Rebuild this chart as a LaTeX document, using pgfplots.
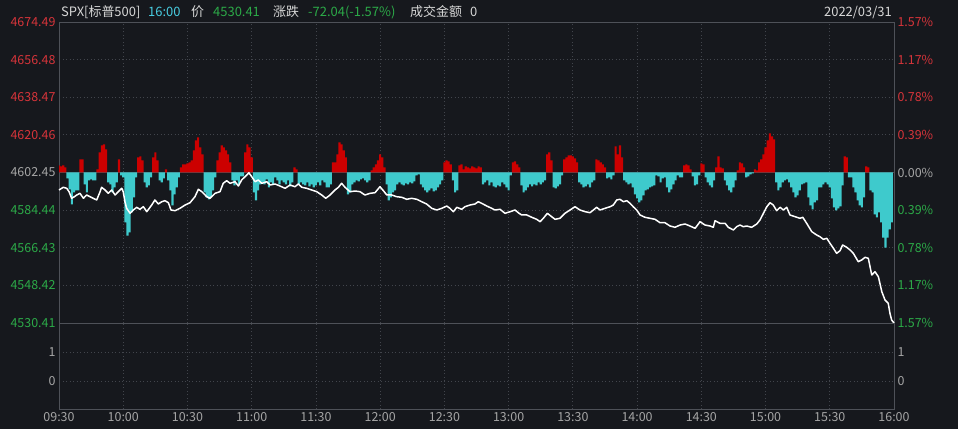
\documentclass[border=0pt]{standalone}
\usepackage{fontspec}
\setmainfont{Noto Sans CJK SC}
\usepackage{pgfplots}
\usepackage{pgfplotstable}
\pgfplotsset{compat=1.18}
\definecolor{bg}{RGB}{22,24,29}
\definecolor{gridc}{RGB}{66,69,76}
\definecolor{framec}{RGB}{78,81,88}
\definecolor{upred}{RGB}{204,0,0}
\definecolor{dncyan}{RGB}{62,202,204}
\definecolor{txtred}{RGB}{214,52,58}
\definecolor{txtgreen}{RGB}{44,170,72}
\definecolor{txtgrey}{RGB}{165,165,165}
\definecolor{txtwhite}{RGB}{215,215,215}
\definecolor{titlecyan}{RGB}{72,205,225}

% breadth bars (arbitrary units), one per minute after 09:30
\pgfplotstableread[row sep=\\]{
m v \\
0 7 \\ 1 6 \\ 2 7 \\ 3 5 \\ 4 -6 \\ 5 -17 \\ 6 -32 \\ 7 -20 \\ 8 -18 \\ 9 -18 \\
10 13 \\ 11 13 \\ 12 -12 \\ 13 -20 \\ 14 -8 \\ 15 -7 \\ 16 -8 \\ 17 -8 \\ 18 3 \\ 19 20 \\
20 27 \\ 21 28 \\ 22 23 \\ 23 -10 \\ 24 -12 \\ 25 -20 \\ 26 -15 \\ 27 -10 \\ 28 13 \\ 29 -3 \\
30 -5 \\ 31 -50 \\ 32 -63 \\ 33 -60 \\ 34 -40 \\ 35 -25 \\ 36 -5 \\ 37 15 \\ 38 16 \\ 39 12 \\
40 -10 \\ 41 -15 \\ 42 -13 \\ 43 -5 \\ 44 15 \\ 45 20 \\ 46 12 \\ 47 -8 \\ 48 -10 \\ 49 -6 \\
50 3 \\ 51 -8 \\ 52 -18 \\ 53 -33 \\ 54 -22 \\ 55 -15 \\ 56 -5 \\ 57 5 \\ 58 8 \\ 59 8 \\
60 9 \\ 61 10 \\ 62 12 \\ 63 22 \\ 64 32 \\ 65 35 \\ 66 25 \\ 67 18 \\ 68 -20 \\ 69 -25 \\
70 -27 \\ 71 -25 \\ 72 -18 \\ 73 -5 \\ 74 12 \\ 75 20 \\ 76 27 \\ 77 25 \\ 78 22 \\ 79 18 \\
80 10 \\ 81 -8 \\ 82 -13 \\ 83 -8 \\ 84 -12 \\ 85 -4 \\ 86 -4 \\ 87 20 \\ 88 28 \\ 89 25 \\
90 15 \\ 91 -20 \\ 92 -28 \\ 93 -18 \\ 94 -12 \\ 95 -10 \\ 96 -12 \\ 97 -7 \\ 98 -15 \\ 99 -10 \\
100 -12 \\ 101 -5 \\ 102 -8 \\ 103 -12 \\ 104 -8 \\ 105 -10 \\ 106 -12 \\ 107 -8 \\ 108 -14 \\ 109 -10 \\
110 5 \\ 111 3 \\ 112 -12 \\ 113 -10 \\ 114 -12 \\ 115 -13 \\ 116 -10 \\ 117 -14 \\ 118 -12 \\ 119 -15 \\
120 -13 \\ 121 -10 \\ 122 -13 \\ 123 -8 \\ 124 -10 \\ 125 -15 \\ 126 -15 \\ 127 -12 \\ 128 10 \\ 129 10 \\
130 18 \\ 131 30 \\ 132 28 \\ 133 22 \\ 134 15 \\ 135 -22 \\ 136 -20 \\ 137 -12 \\ 138 -10 \\ 139 -8 \\
140 -9 \\ 141 -7 \\ 142 -6 \\ 143 -8 \\ 144 -10 \\ 145 -8 \\ 146 2 \\ 147 5 \\ 148 8 \\ 149 12 \\
150 18 \\ 151 15 \\ 152 5 \\ 153 -12 \\ 154 -28 \\ 155 -25 \\ 156 -20 \\ 157 -18 \\ 158 -12 \\ 159 -10 \\
160 -12 \\ 161 -13 \\ 162 -11 \\ 163 -12 \\ 164 -10 \\ 165 -11 \\ 166 -9 \\ 167 -3 \\ 168 -2 \\ 169 -12 \\
170 -15 \\ 171 -18 \\ 172 -20 \\ 173 -18 \\ 174 -16 \\ 175 -19 \\ 176 -18 \\ 177 -15 \\ 178 -12 \\ 179 -8 \\
180 10 \\ 181 12 \\ 182 11 \\ 183 8 \\ 184 -8 \\ 185 -20 \\ 186 -18 \\ 187 7 \\ 188 8 \\ 189 3 \\
190 6 \\ 191 5 \\ 192 4 \\ 193 6 \\ 194 5 \\ 195 4 \\ 196 6 \\ 197 5 \\ 198 -12 \\ 199 -10 \\
200 -8 \\ 201 -13 \\ 202 -10 \\ 203 -14 \\ 204 -15 \\ 205 -13 \\ 206 -14 \\ 207 -10 \\ 208 -12 \\ 209 -15 \\
210 -18 \\ 211 -3 \\ 212 10 \\ 213 11 \\ 214 8 \\ 215 5 \\ 216 -13 \\ 217 -20 \\ 218 -18 \\ 219 -15 \\
220 -12 \\ 221 -14 \\ 222 -12 \\ 223 -13 \\ 224 -10 \\ 225 -12 \\ 226 -10 \\ 227 -8 \\ 228 18 \\ 229 20 \\
230 12 \\ 231 -15 \\ 232 -16 \\ 233 -14 \\ 234 -12 \\ 235 -3 \\ 236 13 \\ 237 15 \\ 238 17 \\ 239 17 \\
240 16 \\ 241 14 \\ 242 10 \\ 243 -10 \\ 244 -12 \\ 245 -15 \\ 246 -14 \\ 247 -12 \\ 248 -15 \\ 249 -10 \\
250 -8 \\ 251 13 \\ 252 12 \\ 253 10 \\ 254 8 \\ 255 5 \\ 256 -6 \\ 257 -5 \\ 258 -7 \\ 259 -3 \\
260 26 \\ 261 18 \\ 262 27 \\ 263 15 \\ 264 -8 \\ 265 -10 \\ 266 -12 \\ 267 -11 \\ 268 -15 \\ 269 -22 \\
270 -26 \\ 271 -30 \\ 272 -28 \\ 273 -23 \\ 274 -18 \\ 275 -17 \\ 276 -15 \\ 277 -14 \\ 278 -13 \\ 279 -3 \\
280 -4 \\ 281 -10 \\ 282 -6 \\ 283 -5 \\ 284 -15 \\ 285 -20 \\ 286 -17 \\ 287 -12 \\ 288 -8 \\ 289 -3 \\
290 -5 \\ 291 -5 \\ 292 7 \\ 293 8 \\ 294 7 \\ 295 3 \\ 296 -4 \\ 297 -13 \\ 298 -12 \\ 299 -3 \\
300 9 \\ 301 8 \\ 302 -5 \\ 303 -10 \\ 304 -13 \\ 305 -15 \\ 306 -8 \\ 307 5 \\ 308 16 \\ 309 5 \\
310 4 \\ 311 -8 \\ 312 -13 \\ 313 -18 \\ 314 -20 \\ 315 -15 \\ 316 -8 \\ 317 2 \\ 318 10 \\ 319 9 \\
320 5 \\ 321 -5 \\ 322 -4 \\ 323 -2 \\ 324 -1 \\ 325 3 \\ 326 2 \\ 327 10 \\ 328 13 \\ 329 18 \\
330 25 \\ 331 32 \\ 332 39 \\ 333 36 \\ 334 33 \\ 335 -10 \\ 336 -18 \\ 337 -15 \\ 338 -10 \\ 339 -8 \\
340 -7 \\ 341 -10 \\ 342 -15 \\ 343 -20 \\ 344 -25 \\ 345 -23 \\ 346 -18 \\ 347 -12 \\ 348 -11 \\ 349 -10 \\
350 -25 \\ 351 -33 \\ 352 -37 \\ 353 -30 \\ 354 -28 \\ 355 -15 \\ 356 -15 \\ 357 -12 \\ 358 -10 \\ 359 -12 \\
360 -15 \\ 361 -26 \\ 362 -35 \\ 363 -38 \\ 364 -36 \\ 365 -34 \\ 366 -13 \\ 367 16 \\ 368 15 \\ 369 -5 \\
370 -5 \\ 371 -15 \\ 372 -20 \\ 373 -28 \\ 374 -33 \\ 375 -35 \\ 376 -25 \\ 377 6 \\ 378 5 \\ 379 -18 \\
380 -20 \\ 381 -42 \\ 382 -45 \\ 383 -40 \\ 384 -50 \\ 385 -65 \\ 386 -75 \\ 387 -65 \\ 388 -57 \\ 389 -50 \\
}\bars

% SPX price, minutes after 09:30
\pgfplotstableread[row sep=\\]{
m p \\
0 4594.07 \\ 2.0 4595.37 \\ 3.6 4594.89 \\ 4.7 4593.26 \\ 5.9 4590.10 \\ 7.2 4590.87 \\ 8.3 4591.68 \\ 9.8 4592.49 \\
11.4 4590.10 \\ 12.9 4591.68 \\ 14.5 4590.87 \\ 16.0 4590.10 \\ 17.6 4589.29 \\ 19.2 4593.26 \\ 19.9 4595.37 \\ 21.5 4594.07 \\
23.0 4592.49 \\ 24.6 4594.07 \\ 26.2 4591.68 \\ 27.7 4593.26 \\ 29.3 4594.89 \\ 30.0 4593.26 \\ 30.8 4588.47 \\ 31.6 4585.31 \\
33.2 4582.92 \\ 34.7 4584.50 \\ 36.3 4585.79 \\ 37.8 4584.83 \\ 39.4 4586.08 \\ 41.0 4583.69 \\ 43.3 4586.89 \\ 44.8 4589.29 \\
46.4 4587.37 \\ 48.0 4588.47 \\ 49.5 4588.95 \\ 51.1 4587.99 \\ 52.3 4584.50 \\ 54.2 4584.16 \\ 56.5 4585.31 \\ 58.9 4586.89 \\
61.2 4587.99 \\ 63.5 4590.87 \\ 65.1 4594.41 \\ 66.7 4593.26 \\ 69.0 4590.87 \\ 70.5 4590.10 \\ 72.9 4592.49 \\ 75.2 4593.26 \\
76.7 4597.28 \\ 78.3 4598.52 \\ 79.9 4597.28 \\ 82.2 4598.05 \\ 83.8 4595.99 \\ 85.3 4598.86 \\ 87.7 4601.25 \\ 88.7 4602.35 \\
90.0 4600.44 \\ 91.6 4598.05 \\ 93.1 4598.86 \\ 94.7 4597.28 \\ 97.0 4598.05 \\ 98.6 4596.47 \\ 100.9 4596.95 \\ 103.2 4595.99 \\
105.6 4594.89 \\ 107.9 4596.47 \\ 110.2 4595.65 \\ 111.8 4596.95 \\ 113.4 4595.37 \\ 115.7 4594.89 \\ 118.0 4594.07 \\ 120.4 4593.26 \\
122.7 4591.68 \\ 124.6 4590.10 \\ 126.6 4591.68 \\ 128.9 4594.07 \\ 130.5 4595.37 \\ 132.0 4597.28 \\ 133.6 4595.37 \\ 135.9 4593.26 \\
138.3 4593.59 \\ 140.6 4593.26 \\ 142.9 4591.68 \\ 145.3 4592.49 \\ 147.6 4592.78 \\ 149.9 4595.65 \\ 151.5 4593.74 \\ 153.1 4591.68 \\
155.4 4591.68 \\ 157.7 4590.87 \\ 160.1 4590.58 \\ 162.4 4589.62 \\ 164.7 4590.10 \\ 167.1 4589.62 \\ 169.4 4588.47 \\ 171.7 4587.37 \\
174.1 4585.31 \\ 176.4 4584.50 \\ 178.8 4585.31 \\ 181.1 4586.41 \\ 182.6 4585.31 \\ 184.2 4583.69 \\ 185.8 4585.79 \\ 188.1 4584.83 \\
189.6 4586.08 \\ 192.0 4586.89 \\ 194.3 4587.37 \\ 195.8 4588.47 \\ 197.4 4587.71 \\ 199.8 4586.41 \\ 202.1 4585.31 \\ 203.6 4584.50 \\
206.0 4584.83 \\ 208.3 4582.92 \\ 210.7 4583.69 \\ 213.0 4584.50 \\ 214.5 4583.21 \\ 216.1 4582.11 \\ 218.5 4582.11 \\ 220.8 4581.01 \\
223.1 4580.05 \\ 224.7 4578.90 \\ 226.2 4580.53 \\ 228.1 4582.92 \\ 230.1 4581.29 \\ 231.7 4580.05 \\ 234.0 4580.53 \\ 236.3 4582.92 \\
238.7 4584.50 \\ 241.0 4586.08 \\ 243.3 4584.50 \\ 245.7 4583.69 \\ 248.0 4583.21 \\ 249.6 4584.50 \\ 251.1 4585.79 \\ 252.7 4584.50 \\
255.0 4585.31 \\ 257.4 4586.08 \\ 258.9 4586.89 \\ 260.5 4589.29 \\ 262.0 4589.62 \\ 263.6 4588.47 \\ 265.2 4588.95 \\ 266.7 4587.71 \\
268.2 4586.08 \\ 269.8 4584.50 \\ 271.4 4582.11 \\ 273.7 4581.01 \\ 276.0 4580.53 \\ 278.4 4580.05 \\ 280.7 4578.42 \\ 283.0 4578.42 \\
285.4 4576.84 \\ 287.7 4576.22 \\ 290.1 4577.32 \\ 292.4 4577.80 \\ 294.7 4576.84 \\ 297.1 4575.74 \\ 299.4 4578.90 \\ 301.7 4577.32 \\
304.1 4576.84 \\ 305.6 4576.22 \\ 306.4 4579.38 \\ 308.7 4578.13 \\ 311.1 4578.13 \\ 312.6 4576.22 \\ 315.0 4574.93 \\ 316.5 4576.51 \\
318.1 4577.32 \\ 319.6 4576.51 \\ 321.2 4576.84 \\ 323.5 4576.22 \\ 325.9 4577.80 \\ 327.4 4579.71 \\ 329.0 4582.92 \\ 330.6 4586.08 \\
332.1 4587.99 \\ 333.6 4586.89 \\ 335.2 4584.16 \\ 336.8 4585.79 \\ 338.3 4584.50 \\ 339.9 4585.79 \\ 341.4 4582.11 \\ 343.8 4581.29 \\
346.1 4580.53 \\ 347.4 4581.01 \\ 349.2 4578.13 \\ 351.6 4574.11 \\ 353.9 4572.53 \\ 355.4 4571.72 \\ 357.0 4570.47 \\ 358.6 4570.95 \\
360.1 4568.56 \\ 361.7 4566.17 \\ 363.2 4563.77 \\ 364.8 4565.02 \\ 366.0 4567.75 \\ 367.9 4566.65 \\ 369.5 4565.35 \\ 371.0 4563.77 \\
373.3 4559.75 \\ 374.9 4560.57 \\ 376.5 4561.86 \\ 378.0 4561.38 \\ 379.6 4553.39 \\ 381.1 4554.97 \\ 382.7 4552.57 \\ 384.3 4545.39 \\
385.8 4541.42 \\ 387.3 4539.84 \\ 388.1 4535.05 \\ 388.9 4531.85 \\ 390 4530.41 \\
}\price

\pgfplotsset{
  every axis/.append style={
    scale only axis, width=835bp, xmin=0, xmax=390,
    tick label style={font=\fontsize{12.5}{14}\selectfont, text=txtgrey},
    major tick length=0pt,
  },
}

\begin{document}
\begin{tikzpicture}[x=1bp,y=1bp]
\path[fill=bg, use as bounding box] (0,0) rectangle (958,429);

% ---- upper panel: frame, grid and bars
\begin{axis}[
  at={(59bp,106bp)}, anchor=south west, height=301bp,
  ymin=-150.5, ymax=150.5,
  xtick={30,60,...,360},
  ytick={-112.875,-75.25,-37.625,37.625,75.25,112.875},
  xticklabels={}, yticklabels={},
  grid=major,
  major grid style={gridc, line width=0.8bp, dash pattern=on 1bp off 2.5bp},
  extra y ticks={0}, extra y tick labels={},
  extra y tick style={grid=major, major grid style={framec, solid, line width=0.9bp}},
  axis line style={framec, line width=0.9bp},
]
\addplot[ybar, bar width=1, bar shift=0pt, fill=upred, draw=none,
  restrict y to domain=0:200] table[x=m, y=v] {\bars};
\addplot[ybar, bar width=1, bar shift=0pt, fill=dncyan, draw=none,
  restrict y to domain=-200:0] table[x=m, y=v] {\bars};
\end{axis}

% ---- upper panel: price line and left labels
\begin{axis}[
  at={(59bp,106bp)}, anchor=south west, height=301bp,
  ymin=4530.41, ymax=4674.49,
  axis x line=none, axis y line*=left, axis line style={draw=none},
  ytick={4530.41,4548.42,4566.43,4584.44,4602.45,4620.46,4638.47,4656.48,4674.49},
  yticklabels={\textcolor{txtgreen}{4530.41},\textcolor{txtgreen}{4548.42},\textcolor{txtgreen}{4566.43},\textcolor{txtgreen}{4584.44},\textcolor{txtgrey}{4602.45},\textcolor{txtred}{4620.46},\textcolor{txtred}{4638.47},\textcolor{txtred}{4656.48},\textcolor{txtred}{4674.49}},
  clip=false,
]
\addplot[white, line width=1.5bp, line join=round] table[x=m, y=p] {\price};
\end{axis}

% ---- upper panel: right percentage labels
\begin{axis}[
  at={(59bp,106bp)}, anchor=south west, height=301bp,
  ymin=4530.41, ymax=4674.49,
  axis x line=none, axis y line*=right, axis line style={draw=none},
  ytick={4530.41,4548.42,4566.43,4584.44,4602.45,4620.46,4638.47,4656.48,4674.49},
  yticklabels={\textcolor{txtgreen}{1.57\%},\textcolor{txtgreen}{1.17\%},\textcolor{txtgreen}{0.78\%},\textcolor{txtgreen}{0.39\%},\textcolor{txtgrey}{0.00\%},\textcolor{txtred}{0.39\%},\textcolor{txtred}{0.78\%},\textcolor{txtred}{1.17\%},\textcolor{txtred}{1.57\%}},
]
\end{axis}

% ---- lower panel
\begin{axis}[
  at={(59bp,20bp)}, anchor=south west, height=86bp,
  ymin=-0.97, ymax=2,
  xtick={0,30,...,390},
  xticklabels={09:30,10:00,10:30,11:00,11:30,12:00,12:30,13:00,13:30,14:00,14:30,15:00,15:30,16:00},
  ytick={0,1}, yticklabels={0,1},
  grid=major,
  major grid style={gridc, line width=0.8bp, dash pattern=on 1bp off 2.5bp},
  axis line style={framec, line width=0.9bp},
]
\end{axis}
\begin{axis}[
  at={(59bp,20bp)}, anchor=south west, height=86bp,
  ymin=-0.97, ymax=2,
  axis x line=none, axis y line*=right, axis line style={draw=none},
  ytick={0,1}, yticklabels={0,1},
]
\end{axis}

% ---- header
\begin{scope}[every node/.style={inner sep=0pt, anchor=base west, font=\fontsize{13}{15}\selectfont}]
\node[text=txtwhite] at (61,412) {SPX[标普500]};
\node[text=titlecyan] at (148,412) {16:00};
\node[text=txtwhite] at (191,412) {价};
\node[text=txtgreen] at (213,412) {4530.41};
\node[text=txtwhite] at (273,412) {涨跌};
\node[text=txtgreen] at (308,412) {-72.04(-1.57\%)};
\node[text=txtwhite] at (410,412) {成交金额};
\node[text=txtwhite] at (470,412) {0};
\node[text=txtwhite, anchor=base east] at (892,412) {2022/03/31};
\end{scope}
\end{tikzpicture}
\end{document}
